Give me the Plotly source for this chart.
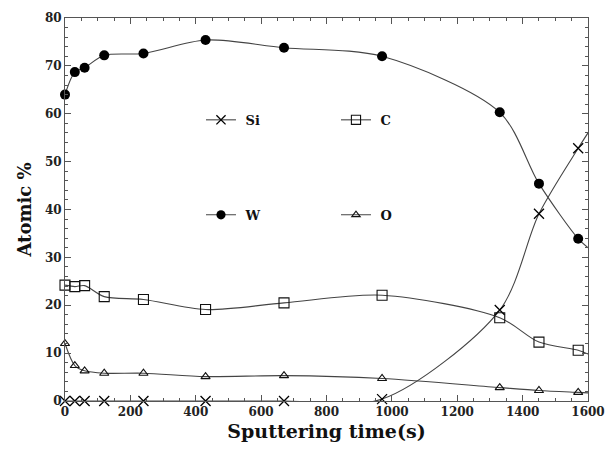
import plotly.graph_objects as go

# Sputtering time (s) of the measured points
time_s = [0, 30, 60, 120, 240, 430, 670, 970, 1330, 1450, 1570]
# Atomic % values
si_pct = [0, 0, 0, 0, 0, 0, 0, 0.4, 19.0, 39.1, 52.8]
c_pct = [24.2, 23.9, 24.1, 21.8, 21.2, 19.1, 20.5, 22.1, 17.4, 12.3, 10.6]
w_pct = [64.0, 68.7, 69.6, 72.2, 72.6, 75.4, 73.8, 72.0, 60.3, 45.4, 33.9]
o_pct = [12.0, 7.4, 6.3, 5.8, 5.8, 5.1, 5.3, 4.7, 2.8, 2.2, 1.8]
# fitted curves continue to the right edge of the axis
fit_end_time = 1600
si_fit_end = 56.0
c_fit_end = 9.8
w_fit_end = 32.0
o_fit_end = 1.7

x_ticks = [0, 200, 400, 600, 800, 1000, 1200, 1400, 1600]
y_ticks = [0, 10, 20, 30, 40, 50, 60, 70, 80]

FONT = "DejaVu Serif"
LINE_COL = "#444444"
NB = "\u00a0"

series = [
    ("Si", si_pct, si_fit_end, dict(symbol="x-thin", size=10, color="#000",
                                     line=dict(width=1.3, color="#000")), "legend"),
    ("C", c_pct, c_fit_end, dict(symbol="square-open", size=10, color="#111",
                                  line=dict(width=1.1, color="#111")), "legend"),
    ("W", w_pct, w_fit_end, dict(symbol="circle", size=10, color="#000",
                                  line=dict(width=0, color="#000")), "legend2"),
    ("O", o_pct, o_fit_end, dict(symbol="triangle-up-open", size=8, color="#111",
                                  line=dict(width=1.1, color="#111")), "legend2"),
]

fig = go.Figure()
for name, vals, end, mk, lg in series:
    xs = time_s + [fit_end_time]
    ys = vals + [end]
    sizes = [mk["size"]] * len(vals) + [0]
    m = dict(mk)
    m["size"] = sizes
    m["opacity"] = 1
    fig.add_trace(go.Scatter(
        x=xs, y=ys, name=NB + name, mode="lines+markers",
        line=dict(shape="spline", smoothing=0.85, color=LINE_COL, width=1.1),
        marker=m, cliponaxis=False, legend=lg,
    ))

legend_common = dict(
    orientation="h", xanchor="left", yanchor="middle",
    bgcolor="rgba(0,0,0,0)", entrywidth=90, entrywidthmode="pixels",
    font=dict(family=FONT, size=13, color="#111", weight="bold"),
    itemclick=False, tracegroupgap=0,
)

fig.update_layout(
    width=605, height=454,
    margin=dict(l=65, r=17, t=18, b=53),
    paper_bgcolor="white", plot_bgcolor="white",
    showlegend=True,
    legend=dict(x=0.26, y=0.734, **legend_common),
    legend2=dict(x=0.26, y=0.486, **legend_common),
    xaxis=dict(
        range=[0, 1600], tickvals=x_ticks, ticktext=[str(v) for v in x_ticks],
        ticks="inside", ticklen=6, tickwidth=1, tickcolor="#555",
        minor=dict(dtick=50, ticks="inside", ticklen=3, tickcolor="#555"),
        showline=True, linecolor="#555", linewidth=1, mirror="ticks",
        showgrid=False, zeroline=False, automargin=False,
        tickfont=dict(family=FONT, size=12, color="#222", weight="bold"),
        title=dict(text="Sputtering time(s)", standoff=6,
                   font=dict(family=FONT, size=19, color="#111", weight="bold")),
    ),
    yaxis=dict(
        range=[0, 80], tickvals=y_ticks, ticktext=[str(v) for v in y_ticks],
        ticks="inside", ticklen=6, tickwidth=1, tickcolor="#555",
        minor=dict(dtick=2, ticks="inside", ticklen=3, tickcolor="#555"),
        showline=True, linecolor="#555", linewidth=1, mirror="ticks",
        showgrid=False, zeroline=False, automargin=False,
        tickfont=dict(family=FONT, size=12, color="#222", weight="bold"),
        title=dict(text="Atomic %", standoff=8,
                   font=dict(family=FONT, size=18, color="#111", weight="bold")),
    ),
)

fig.write_html("out.html")
